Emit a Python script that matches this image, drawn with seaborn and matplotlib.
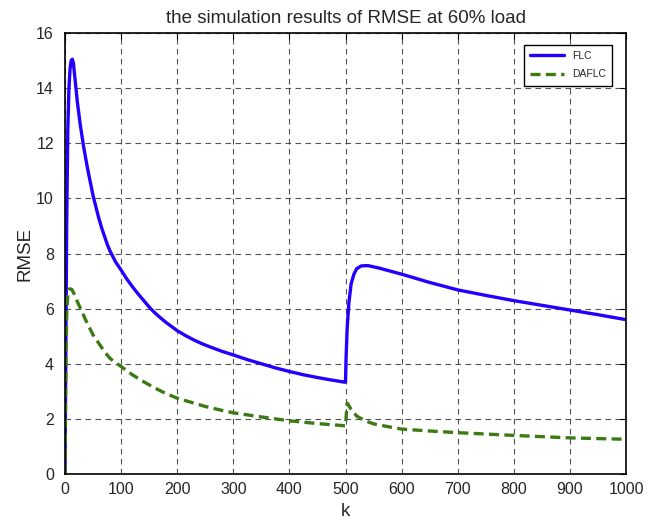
import matplotlib
matplotlib.use("Agg")
import matplotlib.pyplot as plt
import seaborn as sns
import pandas as pd

flc_k = [0, 1, 2, 3, 5, 7, 9, 11, 13, 15, 18, 22, 27, 33, 40, 45, 50, 55, 60, 65, 70, 75, 80, 85, 90, 95, 100,
         110, 120, 130, 140, 150, 160, 170, 180, 190, 200, 215, 230, 245, 260, 280, 300, 325, 350, 375, 400, 425, 450, 475, 499,
         500, 501, 503, 506, 510, 515, 520, 528, 540, 560, 600, 650, 700, 750, 800, 850, 900, 950, 1000]
flc_v = [0, 3.0, 6.0, 9.0, 12.5, 14.0, 14.7, 15.0, 15.05, 14.9, 14.3, 13.5, 12.7, 11.9, 11.1, 10.6, 10.1, 9.7, 9.3, 8.95, 8.65, 8.35, 8.1, 7.9, 7.7, 7.55, 7.4,
         7.08, 6.8, 6.54, 6.3, 6.06, 5.85, 5.67, 5.5, 5.35, 5.2, 5.02, 4.86, 4.72, 4.6, 4.45, 4.32, 4.15, 4.0, 3.85, 3.72, 3.6, 3.5, 3.41, 3.33,
         3.35, 4.2, 5.3, 6.2, 6.9, 7.25, 7.45, 7.55, 7.56, 7.47, 7.25, 6.95, 6.68, 6.48, 6.29, 6.12, 5.95, 5.78, 5.6]

daflc_k = [0, 1, 2, 3, 5, 7, 9, 12, 16, 20, 25, 30, 35, 40, 50, 60, 70, 80, 90, 100, 120, 140, 160, 180, 200, 225, 250, 275, 300, 350, 400, 450, 499,
           500, 503, 510, 520, 535, 550, 575, 600, 650, 700, 800, 900, 1000]
daflc_v = [0, 2.5, 4.5, 5.8, 6.5, 6.7, 6.72, 6.7, 6.55, 6.35, 6.12, 5.9, 5.67, 5.45, 5.05, 4.75, 4.45, 4.2, 4.04, 3.9, 3.6, 3.35, 3.12, 2.92, 2.75, 2.6, 2.45, 2.33, 2.22, 2.07, 1.93, 1.83, 1.75,
           1.75, 2.57, 2.35, 2.1, 1.93, 1.82, 1.72, 1.63, 1.56, 1.5, 1.4, 1.31, 1.26]

df = pd.concat([
    pd.DataFrame({"k": flc_k, "RMSE": flc_v, "method": "FLC"}),
    pd.DataFrame({"k": daflc_k, "RMSE": daflc_v, "method": "DAFLC"}),
])

sns.set_style("white")
plt.rcParams['font.family'] = ['Liberation Sans', 'DejaVu Sans']

fig = plt.figure(figsize=(6.57, 5.23), dpi=100)
ax = fig.add_axes([65/657, 1-474/523, (626-65)/657, (474-33)/523])

sns.lineplot(data=df, x="k", y="RMSE", hue="method", style="method",
             palette={"FLC": "#2200ff", "DAFLC": "#3c7a14"},
             dashes={"FLC": "", "DAFLC": (3, 1.6)},
             linewidth=2.4, ax=ax, sort=False, estimator=None)

ax.set_xlim(0, 1000)
ax.set_ylim(0, 16)
ax.set_xticks(range(0, 1001, 100))
ax.set_yticks(range(0, 17, 2))
ax.grid(True, color="#333333", linestyle=(0, (5, 4)), linewidth=0.8, alpha=0.85)
ax.set_axisbelow(True)
for s in ax.spines.values():
    s.set_color("black")
    s.set_linewidth(1.2)
ax.tick_params(direction="in", length=4, top=True, right=True, labelsize=11.5, color="black", width=0.8)
ax.tick_params(axis="y", pad=8)
ax.tick_params(axis="x", pad=6)
ax.set_xlabel("k", fontsize=13.5, labelpad=4)
ax.set_ylabel("RMSE", fontsize=13.5, labelpad=2)
ax.set_title("the simulation results of RMSE at 60% load", fontsize=13.5, pad=7)

leg = ax.legend(loc="upper right", fontsize=7.5, frameon=True, fancybox=False,
                edgecolor="black", framealpha=1, handlelength=3.2, borderpad=0.6,
                labelspacing=0.8, bbox_to_anchor=(0.985, 0.985))
leg.get_frame().set_linewidth(1.0)
leg.set_title(None)

fig.savefig("out.png", dpi=100)
